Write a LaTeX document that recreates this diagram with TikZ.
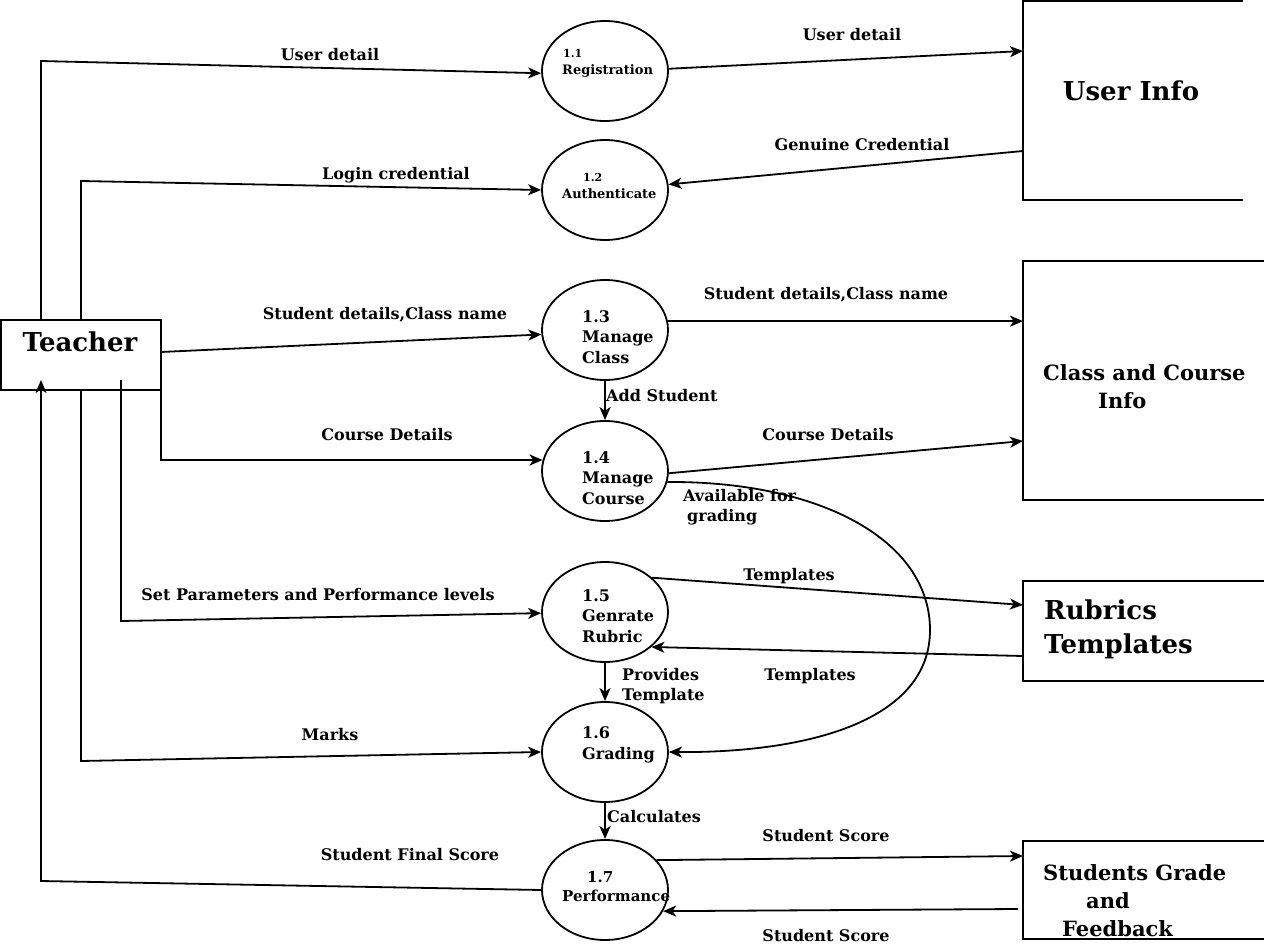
\documentclass[tikz,border=0pt]{standalone}
\usepackage{fontspec}
\setmainfont{DejaVu Serif}
\usetikzlibrary{arrows.meta,shapes.geometric}
\newcommand\labf{\bfseries\fontsize{16}{20.5}\selectfont}
\newcommand\perf{\bfseries\fontsize{15}{20}\selectfont}
\newcommand\smlf{\bfseries\fontsize{13}{18}\selectfont}
\newcommand\tinyf{\bfseries\fontsize{11}{12}\selectfont}
\newcommand\bigf{\bfseries\fontsize{26}{34}\selectfont}
\newcommand\midf{\bfseries\fontsize{21}{28}\selectfont}
\begin{document}
\begin{tikzpicture}[x=1pt,y=-1pt,
  line/.style={line width=1.8pt},
  flow/.style={line width=1.8pt,-{Stealth[length=13pt,width=11pt,inset=3.5pt]}},
  proc/.style={draw,line width=1.8pt,ellipse,minimum width=126pt,minimum height=100pt,inner sep=0pt},
  lab/.style={font=\labf,inner sep=0pt},
  ptext/.style={font=\labf,inner sep=0pt,anchor=west,align=left},
  holder/.style={inner sep=0pt,outer sep=0pt}]
\useasboundingbox (0,0) rectangle (1264,945);

% Teacher
\node[draw,line width=1.8pt,minimum width=160pt,minimum height=70pt,inner sep=0pt,outer sep=0pt] (t) at (81,355) {};
\node[font=\bigf,inner sep=0pt] (tl) at (80,342) {Teacher};

% processes
\node[proc] (p1) at (605,71) {};
\node[proc] (p2) at (605,190) {};
\node[proc] (p3) at (605,330) {};
\node[proc] (p4) at (605,471) {};
\node[proc] (p5) at (605,612) {};
\node[proc] (p6) at (605,752) {};
\node[proc] (p7) at (605,890) {};

\node[font=\tinyf,inner sep=0pt,anchor=west] (p1n) at (563,53) {1.1};
\node[font=\smlf,inner sep=0pt,anchor=west] (p1l) at (562,71) {Registration};
\node[font=\tinyf,inner sep=0pt,anchor=west] (p2n) at (583,177) {1.2};
\node[font=\smlf,inner sep=0pt,anchor=west] (p2l) at (562,194) {Authenticate};
\node[ptext] (p3t) at (582,337) {1.3\\Manage\\Class};
\node[ptext] (p4t) at (582,478) {1.4\\Manage\\Course};
\node[ptext] (p5t) at (582,616) {1.5\\Genrate\\Rubric};
\node[ptext] (p6t) at (582,745) {1.6\\Grading};
\node[font=\perf,inner sep=0pt,anchor=west] (p7n) at (587,877) {1.7};
\node[font=\perf,inner sep=0pt,anchor=west] (p7l) at (562,896) {Performance};

% data stores
\node[holder,minimum width=220pt,minimum height=199pt] (ui) at (1133,100.5) {};
\draw[line] (ui.north east) -- (ui.north west) -- (ui.south west) -- (ui.south east);
\node[font=\bigf,inner sep=0pt] (uil) at (1131,91) {User Info};

\node[holder,minimum width=241pt,minimum height=239pt] (cc) at (1143.5,380.5) {};
\draw[line] (cc.north east) -- (cc.north west) -- (cc.south west) -- (cc.south east);
\node[font=\midf,inner sep=0pt,anchor=west,align=left] (ccl) at (1043,387) {Class and Course\\\hspace*{55pt}Info};

\node[holder,minimum width=241pt,minimum height=100pt] (rt) at (1143.5,631) {};
\draw[line] (rt.north east) -- (rt.north west) -- (rt.south west) -- (rt.south east);
\node[font=\bigf,inner sep=0pt,anchor=west,align=left] (rtl) at (1044,629) {Rubrics\\Templates};

\node[holder,minimum width=241pt,minimum height=98pt] (sg) at (1143.5,890) {};
\draw[line] (sg.north east) -- (sg.north west) -- (sg.south west) -- (sg.south east);
\node[font=\midf,inner sep=0pt,anchor=west,align=left] (sgl) at (1043,901) {Students Grade\\\hspace*{43pt}and\\\hspace*{19pt}Feedback};

% corner coordinates
\coordinate (c1) at (41,61);
\coordinate (c2) at (81,181);
\coordinate (c5) at (121,621);
\coordinate (c6) at (81,761);
\coordinate (c7) at (41,881);
\coordinate (bulge) at (930,630);

% teacher flows
\draw[flow] ([xshift=40pt]t.north west) -- (c1) -- (p1.182);
\draw[flow] ([xshift=80pt]t.north west) -- (c2) -- (p2.180);
\draw[flow] ([yshift=3pt]t.east) -- (p3.184);
\draw[flow] (t.south east) |- (p4.170);
\draw[flow] ([xshift=120pt,yshift=10pt]t.south west) -- (c5) -- (p5.181);
\draw[flow] ([xshift=80pt]t.south west) -- (c6) -- (p6.180);
\draw[flow] (p7.180) -- (c7) -- ([xshift=40pt,yshift=10pt]t.south west);

% right flows
\draw[flow] (p1.2) -- ([yshift=49.5pt]ui.west);
\draw[flow] ([yshift=-50.5pt]ui.west) -- (p2.5);
\draw[flow] (p3.8) -- (p3.8 -| cc.west);
\draw[flow] (p4.-2) -- ([yshift=-60.5pt]cc.west);
\draw[flow] (p5.36) -- ([yshift=26pt]rt.west);
\draw[flow] ([yshift=-25pt]rt.west) -- (p5.-37);
\draw[flow] (p7.30) -- ([yshift=34pt]sg.west);
\draw[flow] ([xshift=-5pt,yshift=-19pt]sg.west) -- (p7.-20);

% vertical flows
\draw[flow] (p3.south) -- (p4.north);
\draw[flow] (p5.south) -- (p6.north);
\draw[flow] (p6.south) -- (p7.north);

% curve
\draw[flow] (p4.-10) .. controls (820,481) and (930,540) .. (bulge) .. controls (930,720) and (810,753) .. (p6.east);

% labels
\node[lab] (l1) at (330,55) {User detail};
\node[lab] (l2) at (396,175) {Login credential};
\node[lab] (l3) at (385,315) {Student details,Class name};
\node[lab] (l4) at (387,435) {Course Details};
\node[lab] (l5) at (318,595) {Set Parameters and Performance levels};
\node[lab] (l6) at (330,735) {Marks};
\node[lab] (l7) at (410,855) {Student Final Score};
\node[lab] (r1) at (852,35) {User detail};
\node[lab] (r2) at (862,145) {Genuine Credential};
\node[lab] (r3) at (826,295) {Student details,Class name};
\node[lab] (r4) at (828,435) {Course Details};
\node[lab,anchor=west] (v1) at (606,396) {Add Student};
\node[lab,anchor=west,align=left] (v2) at (683,507) {Available for\\\hspace*{4pt}grading};
\node[lab] (r5) at (789,576) {Templates};
\node[lab] (r6) at (810,676) {Templates};
\node[lab,anchor=west,align=left] (v3) at (622,686) {Provides\\Template};
\node[lab,anchor=west] (v4) at (607,817) {Calculates};
\node[lab] (r7) at (826,836) {Student Score};
\node[lab] (r8) at (826,936) {Student Score};
\end{tikzpicture}
\end{document}
